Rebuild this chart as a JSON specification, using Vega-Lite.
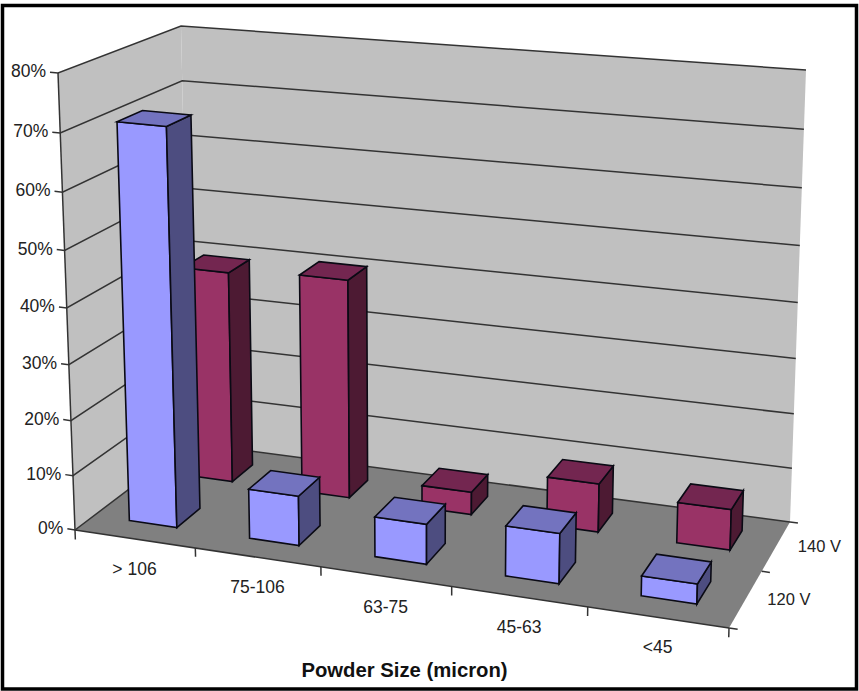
{
  "$schema": "https://vega.github.io/schema/vega-lite/v6.json",
  "width": 854,
  "height": 683.5,
  "padding": {"left": 2.5, "top": 5.5, "right": 2.5, "bottom": 2},
  "autosize": "none",
  "background": "#ffffff",
  "config": {"view": {"stroke": "#000000", "strokeWidth": 3.5}},
  "title": {
    "text": "Powder Size (micron)",
    "orient": "bottom",
    "anchor": "middle",
    "frame": "group",
    "font": "Liberation Sans",
    "fontWeight": "bold",
    "fontSize": 20.3,
    "color": "#111111",
    "offset": -28.5,
    "dx": -25
  },
  "data": {
    "values": [
      {"kind": "wall", "name": "left wall"},
      {"kind": "wall", "name": "back wall"},
      {"kind": "wall", "name": "floor"},
      {"kind": "grid", "tick": 0},
      {"kind": "grid", "tick": 10},
      {"kind": "grid", "tick": 20},
      {"kind": "grid", "tick": 30},
      {"kind": "grid", "tick": 40},
      {"kind": "grid", "tick": 50},
      {"kind": "grid", "tick": 60},
      {"kind": "grid", "tick": 70},
      {"kind": "grid", "tick": 80},
      {"kind": "axis"},
      {"kind": "bar", "size": "> 106", "series": "140 V", "value": 39.6},
      {"kind": "bar", "size": "75-106", "series": "140 V", "value": 40.6},
      {"kind": "bar", "size": "63-75", "series": "140 V", "value": 4.2},
      {"kind": "bar", "size": "45-63", "series": "140 V", "value": 8.9},
      {"kind": "bar", "size": "<45", "series": "140 V", "value": 7.4},
      {"kind": "bar", "size": "> 106", "series": "120 V", "value": 71},
      {"kind": "bar", "size": "75-106", "series": "120 V", "value": 9},
      {"kind": "bar", "size": "63-75", "series": "120 V", "value": 7.2},
      {"kind": "bar", "size": "45-63", "series": "120 V", "value": 8.9},
      {"kind": "bar", "size": "<45", "series": "120 V", "value": 3.5},
      {"kind": "category", "size": "> 106"},
      {"kind": "category", "size": "75-106"},
      {"kind": "category", "size": "63-75"},
      {"kind": "category", "size": "45-63"},
      {"kind": "category", "size": "<45"},
      {"kind": "seriesName", "series": "120 V"},
      {"kind": "seriesName", "series": "140 V"}
    ]
  },
  "transform": [
    {"calculate": "indexof(['> 106','75-106','63-75','45-63','<45'], datum.size) * 0.2 + 0.1", "as": "mid"},
    {"calculate": "datum.series == '120 V' ? 0.25 : 0.75", "as": "lane"},
    {"calculate": "datum.kind == 'grid' ? datum.tick / 80 : datum.value / 80", "as": "top"},
    {"calculate": "datum.mid - 0.04", "as": "a"},
    {"calculate": "datum.mid + 0.04", "as": "b"},
    {"calculate": "datum.lane - 0.1", "as": "f"},
    {"calculate": "datum.lane + 0.1", "as": "g"},
    {
      "calculate": "datum.kind == 'bar' ? [{part: 'front', pts: [[datum.a, datum.f, 0], [datum.b, datum.f, 0], [datum.b, datum.f, datum.top], [datum.a, datum.f, datum.top]]}, {part: 'side', pts: [[datum.b, datum.f, 0], [datum.b, datum.g, 0], [datum.b, datum.g, datum.top], [datum.b, datum.f, datum.top]]}, {part: 'top', pts: [[datum.a, datum.f, datum.top], [datum.b, datum.f, datum.top], [datum.b, datum.g, datum.top], [datum.a, datum.g, datum.top]]}] : datum.kind == 'wall' ? (datum.name == 'floor' ? [{part: 'floor', pts: [[0, 0, 0], [1, 0, 0], [1, 1, 0], [0, 1, 0]]}] : datum.name == 'back wall' ? [{part: 'back wall', pts: [[0, 1, 0], [1, 1, 0], [1, 1, 1], [0, 1, 1]]}] : [{part: 'left wall', pts: [[0, 0, 0], [0, 1, 0], [0, 1, 1], [0, 0, 1]]}]) : datum.kind == 'grid' ? [{part: 'line', pts: [[-0.013, 0, datum.top], [0, 0, datum.top], [0, 1, datum.top], [1, 1, datum.top], [datum.tick == 0 ? 1.012 : 1, 1, datum.top]]}, {part: 'label', pts: [[-0.013, 0, datum.top]]}] : datum.kind == 'axis' ? [{part: 'value axis', pts: [[0, 0, -0.022], [0, 0, 1]]}, {part: 'size axis', pts: [[0, 0, 0], [1, 0, 0]]}, {part: 't1', pts: [[0.2, 0, 0], [0.2, 0, -0.02]]}, {part: 't2', pts: [[0.4, 0, 0], [0.4, 0, -0.02]]}, {part: 't3', pts: [[0.6, 0, 0], [0.6, 0, -0.02]]}, {part: 't4', pts: [[0.8, 0, 0], [0.8, 0, -0.02]]}, {part: 't5', pts: [[1, 0, 0], [1, 0, -0.02]]}, {part: 's0', pts: [[1, 0, 0], [1.012, 0, 0]]}, {part: 's1', pts: [[1, 0.5, 0], [1.012, 0.5, 0]]}] : datum.kind == 'category' ? [{part: 'label', pts: [[datum.mid, 0, 0]]}] : [{part: 'label', pts: [[1, datum.lane, 0]]}]",
      "as": "polys"
    },
    {"flatten": ["polys"], "as": ["poly"]},
    {"calculate": "datum.poly.part", "as": "part"},
    {"calculate": "datum.poly.pts", "as": "pts"},
    {"flatten": ["pts"], "as": ["pt"]},
    {"calculate": "datum.kind + '|' + datum.size + '|' + datum.series + '|' + datum.tick + '|' + datum.part", "as": "shape"},
    {"calculate": "datum.kind == 'bar' ? datum.series + ' ' + datum.part : datum.part", "as": "shade"},
    {"calculate": "datum.pt[0] - 0.1 * datum.pt[0] * (1 - datum.pt[0])", "as": "uu"},
    {"calculate": "datum.pt[1] + 0.14 * datum.pt[1] * (1 - datum.pt[1])", "as": "vv"},
    {"calculate": "datum.pt[2] - 0.057 * datum.pt[2] * (1 - datum.pt[2])", "as": "hh"},
    {"calculate": "75 + 654 * datum.uu + 115 * datum.vv - 54 * datum.uu * datum.vv", "as": "bx"},
    {"calculate": "530 + 98 * datum.uu - 87 * datum.vv - 19 * datum.uu * datum.vv", "as": "by"},
    {"calculate": "58 + 685.5 * datum.uu + 123 * datum.vv - 60.5 * datum.uu * datum.vv", "as": "tx"},
    {"calculate": "73 + 63 * datum.uu - 47 * datum.vv - 19 * datum.uu * datum.vv", "as": "ty"},
    {"calculate": "datum.bx + (datum.tx - datum.bx) * datum.hh", "as": "px"},
    {"calculate": "datum.by + (datum.ty - datum.by) * datum.hh", "as": "py"}
  ],
  "encoding": {
    "x": {"field": "px", "type": "quantitative", "axis": null, "scale": {"domain": [2.5, 856.5], "nice": false, "zero": false}},
    "y": {"field": "py", "type": "quantitative", "axis": null, "scale": {"domain": [5.5, 689], "reverse": true, "nice": false, "zero": false}}
  },
  "layer": [
    {
      "transform": [{"filter": "datum.kind == 'wall'"}],
      "mark": {"type": "line", "interpolate": "linear-closed", "strokeWidth": 0},
      "encoding": {
        "order": {"value": null},
        "detail": {"field": "shape"},
        "fill": {
          "field": "shade",
          "type": "nominal",
          "legend": null,
          "scale": {
            "domain": ["left wall", "back wall", "floor", "120 V front", "120 V side", "120 V top", "140 V front", "140 V side", "140 V top"],
            "range": ["#c0c0c0", "#c0c0c0", "#808080", "#9999ff", "#4d4d80", "#7373bf", "#993366", "#4d1a33", "#732650"]
          }
        }
      }
    },
    {
      "transform": [{"filter": "datum.kind == 'grid' && datum.part == 'line'"}],
      "mark": {"type": "line", "stroke": "#333333", "strokeWidth": 1.5},
      "encoding": {"order": {"value": null}, "detail": {"field": "shape"}}
    },
    {
      "transform": [{"filter": "datum.kind == 'axis'"}],
      "mark": {"type": "line", "stroke": "#333333", "strokeWidth": 1.5},
      "encoding": {"order": {"value": null}, "detail": {"field": "shape"}}
    },
    {
      "transform": [{"filter": "datum.kind == 'bar'"}],
      "mark": {"type": "line", "interpolate": "linear-closed", "stroke": "#0a0a14", "strokeWidth": 1.6},
      "encoding": {
        "order": {"value": null},
        "detail": {"field": "shape"},
        "fill": {"field": "shade", "type": "nominal", "legend": null}
      }
    },
    {
      "transform": [{"filter": "datum.kind == 'grid' && datum.part == 'label'"}, {"calculate": "datum.tick + '%'", "as": "caption"}],
      "mark": {"type": "text", "align": "right", "baseline": "middle", "dx": -4, "font": "Liberation Sans", "fontSize": 17.5, "color": "#222222"},
      "encoding": {"text": {"field": "caption"}}
    },
    {
      "transform": [{"filter": "datum.kind == 'category'"}],
      "mark": {"type": "text", "align": "center", "baseline": "middle", "dy": 31, "font": "Liberation Sans", "fontSize": 17.5, "color": "#222222"},
      "encoding": {"text": {"field": "size"}}
    },
    {
      "transform": [{"filter": "datum.kind == 'seriesName'"}],
      "mark": {"type": "text", "align": "center", "baseline": "middle", "dx": 43, "dy": 1, "font": "Liberation Sans", "fontSize": 16.5, "color": "#222222"},
      "encoding": {"text": {"field": "series"}}
    },
    {
      "data": {"values": [{"frame": "inner"}]},
      "mark": {"type": "rect", "fill": null, "filled": false, "stroke": "#777777", "strokeWidth": 1.5},
      "encoding": {
        "x": {"datum": 6, "type": "quantitative", "axis": null, "scale": {"domain": [2.5, 856.5], "nice": false, "zero": false}},
        "x2": {"datum": 852.5},
        "y": {"datum": 8, "type": "quantitative", "axis": null, "scale": {"domain": [5.5, 689], "reverse": true, "nice": false, "zero": false}},
        "y2": {"datum": 686}
      }
    }
  ]
}
